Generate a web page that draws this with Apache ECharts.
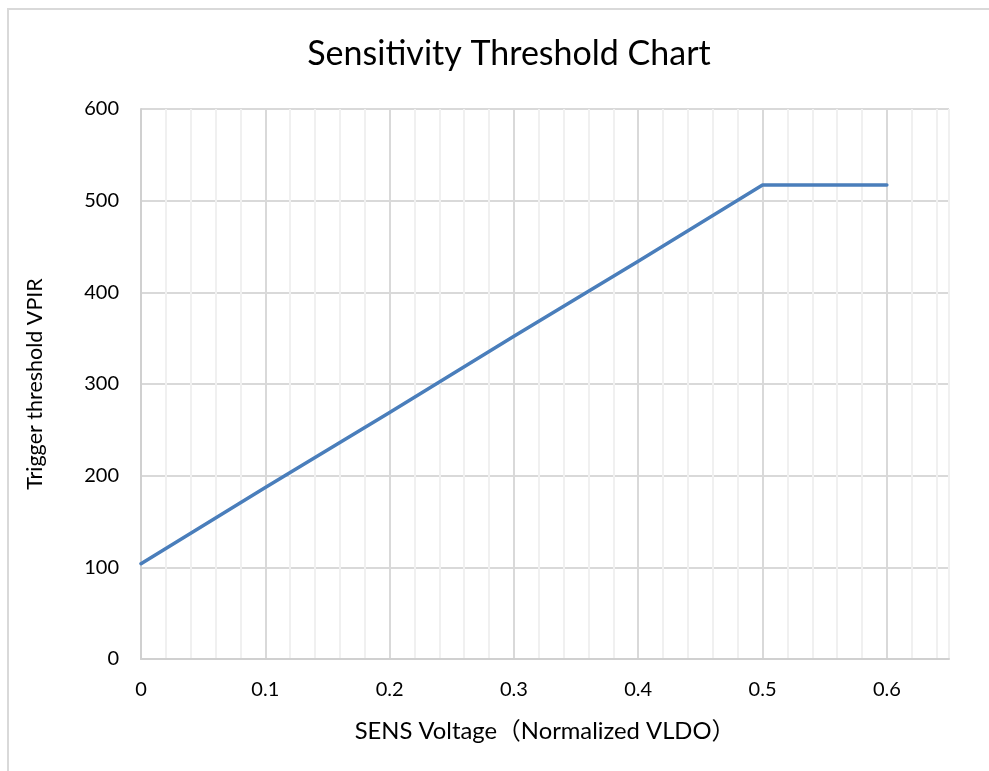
<!DOCTYPE html>
<html>
<head>
<meta charset="utf-8">
<title>Sensitivity Threshold Chart</title>
<script src="https://cdn.jsdelivr.net/npm/echarts@6/dist/echarts.min.js"></script>
<style>
  html, body { margin: 0; padding: 0; background: #fff; }
  #chart { width: 989px; height: 771px; }
</style>
</head>
<body>
<div id="chart"></div>
<script>
// values
const sensVoltage = [0, 0.1, 0.2, 0.3, 0.4, 0.5, 0.6];
const triggerThreshold = [104, 187, 269, 352, 434, 517, 517];

const xMajorStep = 0.1;
const xMinorStep = 0.02;

const FONT = 'Lato, "Noto Sans", "Noto Sans CJK SC", sans-serif';

const chart = echarts.init(document.getElementById('chart'));

// major grid every 0.1, lighter minor grid every 0.02
const minorPerMajor = Math.round(xMajorStep / xMinorStep);
const vLineColors = [];
for (let i = 0; i < minorPerMajor; i++) vLineColors.push(i === 0 ? '#d9d9d9' : '#f0f0f0');

function isMajor(v) {
  return Math.abs(v / xMajorStep - Math.round(v / xMajorStep)) < 1e-6;
}

chart.setOption({
  animation: false,
  backgroundColor: '#fff',
  title: {
    text: 'Sensitivity Threshold Chart',
    left: 504,
    top: 32,
    textAlign: 'center',
    textStyle: { fontFamily: FONT, fontSize: 34, fontWeight: 'normal', color: '#000' }
  },
  graphic: [
    {
      type: 'rect',
      shape: { x: 8, y: 9, width: 1000, height: 800 },
      style: { fill: 'none', stroke: '#d9d9d9', lineWidth: 2 },
      silent: true
    }
  ],
  grid: { left: 141, right: 40, top: 109, bottom: 112 },
  xAxis: {
    type: 'value',
    min: 0,
    max: 0.65,
    interval: xMinorStep,
    name: 'SENS Voltage（Normalized VLDO）',
    nameLocation: 'middle',
    nameGap: 60,
    nameTextStyle: { fontFamily: FONT, fontSize: 23.8, color: '#000' },
    axisLine: { show: true, lineStyle: { color: '#d0d0d0', width: 2 } },
    axisTick: { show: false },
    axisLabel: {
      margin: 21,
      fontFamily: FONT,
      fontSize: 20,
      color: '#000',
      showMaxLabel: false,
      formatter: (v) => (isMajor(v) ? String(Math.round(v * 10) / 10) : '')
    },
    splitLine: { show: true, lineStyle: { color: vLineColors, width: 2 } }
  },
  yAxis: {
    type: 'value',
    min: 0,
    max: 600,
    interval: 100,
    name: 'Trigger threshold VPIR',
    nameLocation: 'middle',
    nameGap: 95,
    nameTextStyle: { fontFamily: FONT, fontSize: 21.5, color: '#000' },
    axisLine: { show: true, lineStyle: { color: '#d0d0d0', width: 2 } },
    axisTick: { show: false },
    axisLabel: { margin: 22, fontFamily: FONT, fontSize: 20, color: '#000' },
    splitLine: { show: true, lineStyle: { color: '#d9d9d9', width: 2 } }
  },
  series: [
    {
      name: 'Trigger threshold VPIR',
      type: 'line',
      data: sensVoltage.map((x, i) => [x, triggerThreshold[i]]),
      showSymbol: false,
      symbol: 'none',
      lineStyle: { color: '#4a7ebb', width: 3.5, cap: 'round', join: 'round' },
      itemStyle: { color: '#4a7ebb' }
    }
  ]
});
</script>
</body>
</html>
